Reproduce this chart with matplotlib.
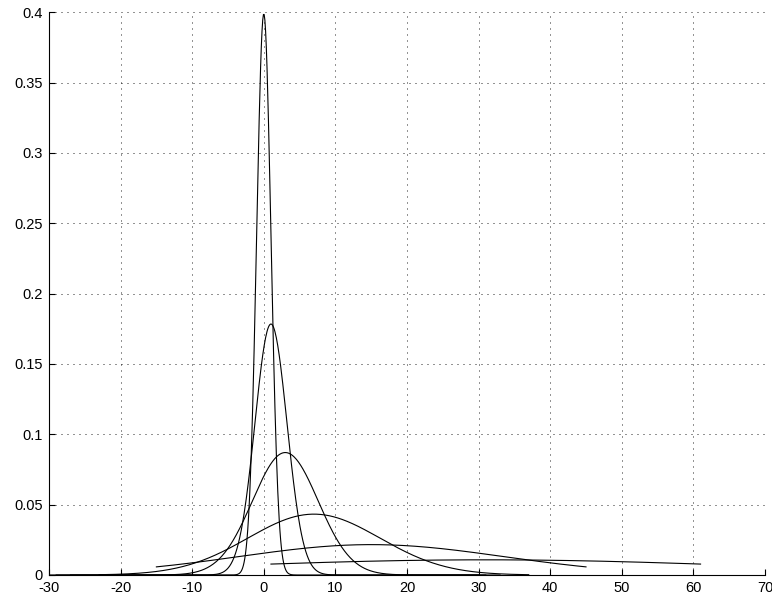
import numpy as np
import matplotlib
matplotlib.use('Agg')
import matplotlib.pyplot as plt

plt.rcParams['font.family'] = ['Liberation Sans', 'DejaVu Sans']

# Gaussian curves: centre, spread, drawn over centre +/- half_width
means = [0, 1, 3, 7, 15, 31]
sigmas = [1.0, 2.236, 4.583, 9.22, 18.47, 36.95]
half_width = 30

x_ticks = [-30, -20, -10, 0, 10, 20, 30, 40, 50, 60, 70]
y_ticks = [0, 0.05, 0.1, 0.15, 0.2, 0.25, 0.3, 0.35, 0.4]
y_labels = ['0', '0.05', '0.1', '0.15', '0.2', '0.25', '0.3', '0.35', '0.4']

fig = plt.figure(figsize=(7.72, 6.01), dpi=100)
ax = fig.add_axes([49 / 772, 1 - 575 / 601, 716 / 772, (575 - 12.3) / 601])

for m, s in zip(means, sigmas):
    x = np.linspace(m - half_width, m + half_width, 600)
    y = np.exp(-0.5 * ((x - m) / s) ** 2) / (s * np.sqrt(2 * np.pi))
    ax.plot(x, y, color='black', lw=0.8)

ax.set_xlim(-30, 70)
ax.set_ylim(0, 0.4)
ax.set_xticks(x_ticks)
ax.set_xticklabels([str(t) for t in x_ticks])
ax.set_yticks(y_ticks)
ax.set_yticklabels(y_labels)

ax.grid(True, color='black', lw=0.6, linestyle=(0, (1.2, 6)))
ax.spines['top'].set_visible(False)
ax.spines['right'].set_visible(False)
for sp in ['left', 'bottom']:
    ax.spines[sp].set_linewidth(0.8)
ax.tick_params(direction='in', length=4, width=0.8, labelsize=10.5)
ax.tick_params(axis='y', pad=4.5)
ax.tick_params(axis='x', pad=4)

fig.savefig('out.png', dpi=100)
